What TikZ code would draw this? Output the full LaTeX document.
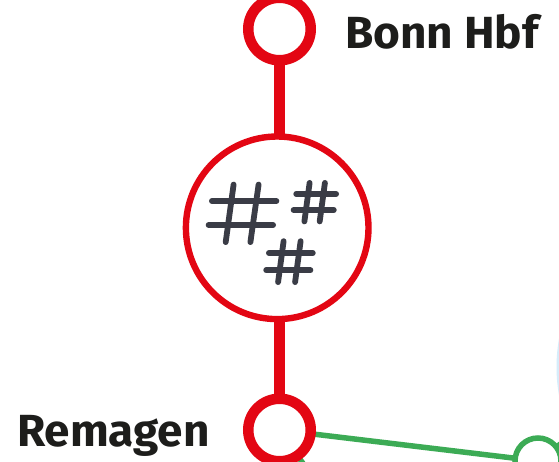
\documentclass[tikz,border=0pt]{standalone}
\usepackage{fontspec}
\setmainfont[FakeStretch=1.02]{Fira Sans}
\definecolor{dbred}{HTML}{E30613}
\definecolor{lgreen}{HTML}{3CAB55}
\definecolor{hashink}{HTML}{3A3C46}
\definecolor{inkblack}{HTML}{1D1D1B}
\definecolor{paleblue}{HTML}{D6ECFA}
\tikzset{
  stationring/.style={circle,draw=dbred,fill=white,line width=10.5pt,minimum size=62.5pt,inner sep=0pt,outer sep=0pt},
  eventring/.style={circle,draw=dbred,fill=white,line width=6.4pt,minimum size=182.6pt,inner sep=0pt,outer sep=0pt},
  greenring/.style={circle,draw=lgreen,fill=white,line width=5.5pt,minimum size=46pt,inner sep=0pt,outer sep=0pt},
  redlink/.style={draw=dbred,line width=10.5pt},
  greenlink/.style={draw=lgreen,line width=5.5pt},
  hashline/.style={draw=hashink,line width=5.8pt,line cap=round,shorten >=2.9pt,shorten <=2.9pt},
  stationlabel/.style={text=inkblack,font=\fontsize{45}{46}\selectfont\bfseries,inner sep=0pt,anchor=base west},
}
\begin{document}
\begin{tikzpicture}[x=1pt,y=-1pt]
\useasboundingbox (0,0) rectangle (559,462);
\clip (0,0) rectangle (559,462);
\fill[white] (0,0) rectangle (559,462);
\fill[paleblue] (714.5,367) circle (158pt);
% free ends
\coordinate (gA) at (316,482);
\coordinate (gB) at (575,433);
% green layer
\coordinate (remC) at (279.5,430);
\coordinate (grnC) at (538,461);
\draw[greenlink] (remC) -- (gA);
\draw[greenlink] (grnC) -- (gB);
\draw[greenlink] (remC) -- (grnC);
\node[greenring] (grn) at (grnC) {};
% stations
\node[eventring] (event) at (277.2,227.8) {};
\node[stationring] (bonn) at (279.5,29) {};
\node[stationring] (rem) at (remC) {};
\draw[redlink] (bonn.south) -- (bonn.south |- event.north);
\draw[redlink] (rem.north) -- (rem.north |- event.south);
% hashes
\draw[hashline] (209,201)--(279.3,201);
\draw[hashline] (205.7,225)--(276,225);
\draw[hashline] (234,181.7)--(225.3,245);
\draw[hashline] (259,181.7)--(250,245);
\draw[hashline] (293.3,194)--(339,194);
\draw[hashline] (290.7,210)--(336.7,210);
\draw[hashline] (310,180)--(304,224.3);
\draw[hashline] (325.3,180)--(319.3,224.3);
\draw[hashline] (266,253)--(315.7,253);
\draw[hashline] (263.3,270.3)--(313.3,270.3);
\draw[hashline] (284,238.3)--(277.7,285);
\draw[hashline] (301,238.3)--(294.7,285);
% labels
\node[stationlabel] (bonnlabel) at (345,49) {Bonn Hbf};
\node[stationlabel] (remlabel) at (17,446) {Remagen};
\end{tikzpicture}
\end{document}
